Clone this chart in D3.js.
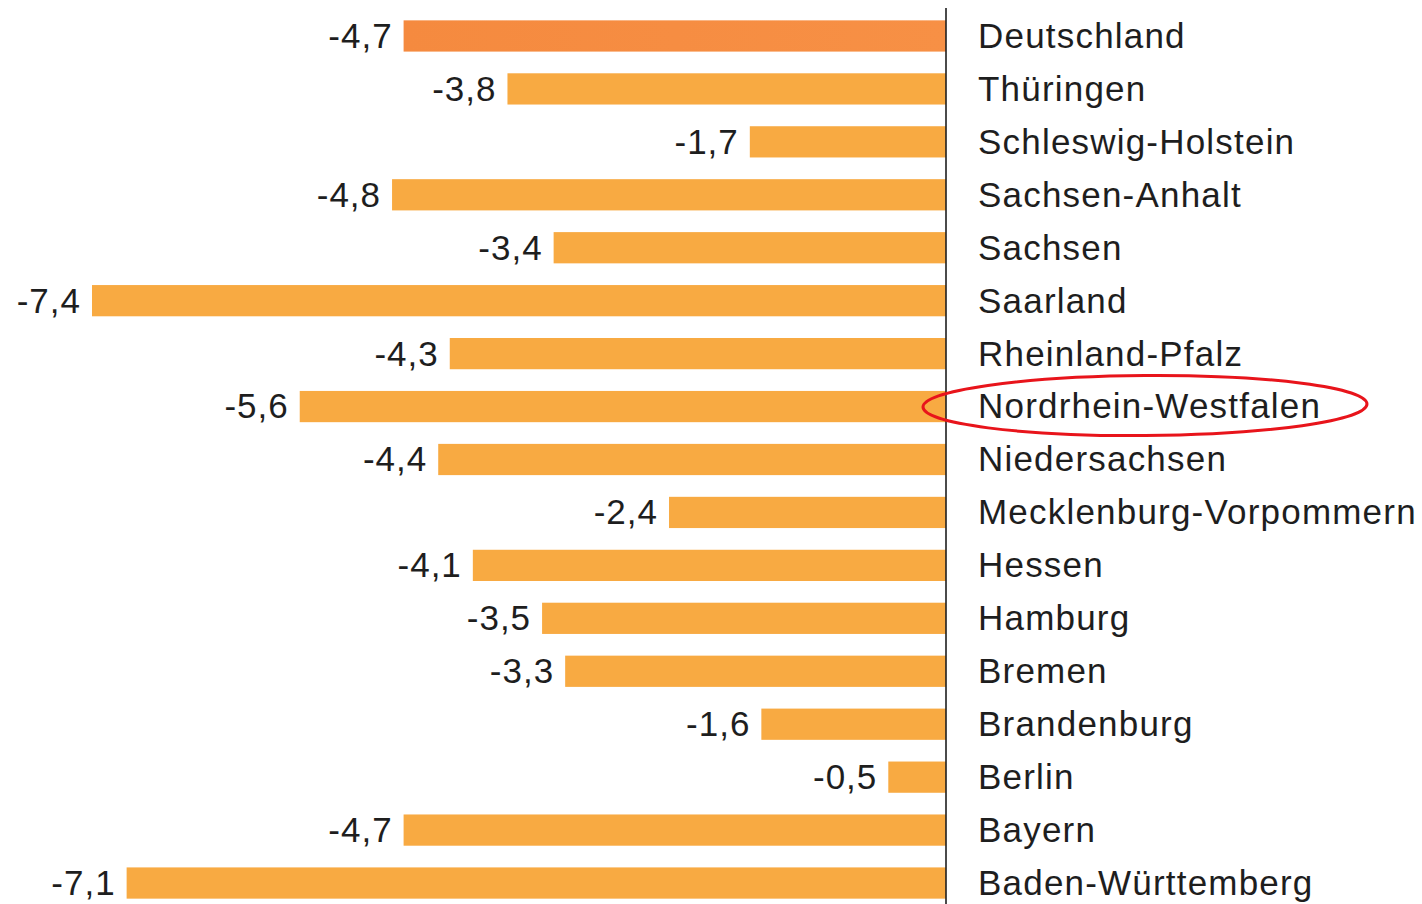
<!DOCTYPE html>
<html>
<head>
<meta charset="utf-8">
<script src="https://cdn.jsdelivr.net/npm/d3@7"></script>
<style>
  body { margin: 0; background: #fff; }
  text { font-family: "Liberation Sans", Arial, sans-serif; fill: #1e1e1e; }
</style>
</head>
<body>
<script>
// Data
const laender = ["Deutschland", "Thüringen", "Schleswig-Holstein", "Sachsen-Anhalt", "Sachsen",
  "Saarland", "Rheinland-Pfalz", "Nordrhein-Westfalen", "Niedersachsen", "Mecklenburg-Vorpommern",
  "Hessen", "Hamburg", "Bremen", "Brandenburg", "Berlin", "Bayern", "Baden-Württemberg"];
const werte = [-4.7, -3.8, -1.7, -4.8, -3.4, -7.4, -4.3, -5.6, -4.4, -2.4, -4.1, -3.5, -3.3, -1.6, -0.5, -4.7, -7.1];
const markiert = "Nordrhein-Westfalen";

const width = 1422, height = 904;
const fmt = v => d3.format(".1f")(v).replace(".", ",").replace("−", "-");

const svg = d3.select("body").append("svg")
    .attr("width", width)
    .attr("height", height);

const x = d3.scaleLinear()
    .domain([-7.4, 0])
    .range([92, 946]);

const y = d3.scaleBand()
    .domain(laender)
    .range([9.5, 909.5])
    .paddingInner(0.41)
    .paddingOuter(0.205);

// gradient for the Germany bar
const grad = svg.append("defs").append("linearGradient")
    .attr("id", "dgrad")
    .attr("x1", "0%").attr("x2", "100%");
grad.append("stop").attr("offset", "0%").attr("stop-color", "#f58a3f");
grad.append("stop").attr("offset", "100%").attr("stop-color", "#f79045");

svg.selectAll("rect.bar")
    .data(laender)
  .enter().append("rect")
    .attr("class", "bar")
    .attr("x", (d, i) => x(werte[i]))
    .attr("y", d => y(d))
    .attr("width", (d, i) => x(0) - x(werte[i]))
    .attr("height", y.bandwidth())
    .attr("fill", (d, i) => i === 0 ? "url(#dgrad)" : "#f8aa42");

// value labels
svg.selectAll("text.wert")
    .data(laender)
  .enter().append("text")
    .attr("class", "wert")
    .attr("x", (d, i) => x(werte[i]) - 11)
    .attr("y", d => y(d) + y.bandwidth() / 2)
    .attr("dy", "0.34em")
    .attr("text-anchor", "end")
    .attr("font-size", "35px")
    .style("letter-spacing", "1px")
    .text((d, i) => fmt(werte[i]));

// category labels
svg.selectAll("text.land")
    .data(laender)
  .enter().append("text")
    .attr("class", "land")
    .attr("x", x(0) + 32)
    .attr("y", d => y(d) + y.bandwidth() / 2)
    .attr("dy", "0.34em")
    .attr("font-size", "35px")
    .style("letter-spacing", "1.2px")
    .text(d => d);

// zero axis
svg.append("line")
    .attr("x1", x(0)).attr("x2", x(0))
    .attr("y1", 8).attr("y2", height)
    .attr("stroke", "#1e1e1e")
    .attr("stroke-width", 1.6);

// red ellipse around NRW
svg.append("ellipse")
    .attr("cx", x(0) + 199)
    .attr("cy", y(markiert) + y.bandwidth() / 2 - 1)
    .attr("rx", 222)
    .attr("ry", 30)
    .attr("transform", `rotate(-0.4 ${x(0) + 199} ${y(markiert) + y.bandwidth() / 2})`)
    .attr("fill", "none")
    .attr("stroke", "#e8141b")
    .attr("stroke-width", 3);
</script>
</body>
</html>
